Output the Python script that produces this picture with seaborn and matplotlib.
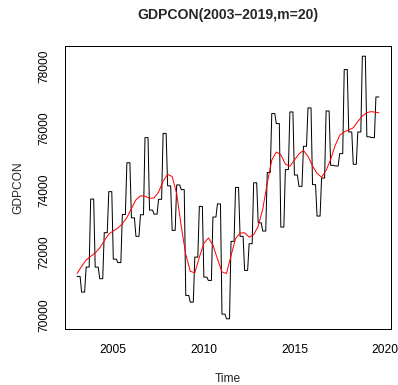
import numpy as np
import pandas as pd
import matplotlib
matplotlib.use("Agg")
import matplotlib.pyplot as plt
import seaborn as sns

# Quarterly values (each quarter is shown as three equal monthly values), 2003Q1 - 2019Q3
gdp_q = [
    71234, 70730, 71535, 73725,   # 2003
    71535, 71160, 72643, 73964,   # 2004
    71790, 71680, 73228, 74895,   # 2005
    73120, 72524, 73220, 75704,   # 2006
    73370, 73240, 73716, 75840,   # 2007
    74150, 72717, 74180, 74030,   # 2008
    70622, 70406, 71856, 73490,   # 2009
    71212, 71105, 73146, 73570,   # 2010
    70020, 69870, 72363, 74100,   # 2011
    72524, 71428, 72288, 74250,   # 2012
    72960, 72695, 74580, 76478,   # 2013
    76156, 72823, 74673, 76530,   # 2014
    74500, 74135, 75424, 76659,   # 2015
    74190, 73178, 74403, 76562,   # 2016
    74812, 74790, 75189, 77896,   # 2017
    75885, 74844, 75885, 78325,   # 2018
    75730, 75704, 77013,          # 2019
]
start_year = 2003

# Smoothed (m=20) curve read at quarter starts, plus the last month
smooth_t = [2003.00, 2003.25, 2003.50, 2003.75, 2004.00, 2004.25, 2004.50, 2004.75,
            2005.00, 2005.25, 2005.50, 2005.75, 2006.00, 2006.25, 2006.50, 2006.75,
            2007.00, 2007.25, 2007.50, 2007.75, 2008.00, 2008.25, 2008.50, 2008.75,
            2009.00, 2009.25, 2009.50, 2009.75, 2010.00, 2010.25, 2010.50, 2010.75,
            2011.00, 2011.25, 2011.50, 2011.75, 2012.00, 2012.25, 2012.50, 2012.75,
            2013.00, 2013.25, 2013.50, 2013.75, 2014.00, 2014.25, 2014.50, 2014.75,
            2015.00, 2015.25, 2015.50, 2015.75, 2016.00, 2016.25, 2016.50, 2016.75,
            2017.00, 2017.25, 2017.50, 2017.75, 2018.00, 2018.25, 2018.50, 2018.75,
            2019.00, 2019.25, 2019.50, 2019.667]
smooth_v = [71330, 71560, 71760, 71880, 71990, 72150, 72380, 72600,
            72700, 72790, 72930, 73130, 73420, 73700, 73830, 73820,
            73750, 73760, 73950, 74300, 74520, 74450, 73900, 72850,
            71950, 71400, 71350, 71850, 72300, 72470, 72250, 71800,
            71380, 71330, 71900, 72450, 72630, 72640, 72500, 72580,
            72850, 73400, 74230, 74980, 75240, 75150, 74850, 74780,
            74980, 75180, 75290, 75100, 74790, 74550, 74430, 74650,
            75000, 75450, 75780, 75890, 75950, 76020, 76220, 76400,
            76510, 76540, 76520, 76500]

x_ticks = [2005, 2010, 2015, 2020]
y_ticks = [70000, 72000, 74000, 76000, 78000]
title = "GDPCON(2003\u20132019,m=20)"

monthly = np.repeat(gdp_q, 3)
t_month = start_year + np.arange(len(monthly)) / 12.0
df_black = pd.DataFrame({"Time": t_month, "GDPCON": monthly})
df_red = pd.DataFrame({"Time": smooth_t, "GDPCON": smooth_v})

sns.set_style("white")
plt.rcParams['font.family'] = ['Liberation Sans', 'DejaVu Sans']

W, H, DPI = 398, 385, 72
fig = plt.figure(figsize=(W / DPI, H / DPI), dpi=DPI)
left, right, top, bottom = 65, 391, 45.7, 329.3
ax = fig.add_axes([left / W, 1 - bottom / H, (right - left) / W, (bottom - top) / H])

sns.lineplot(data=df_black, x="Time", y="GDPCON", ax=ax, color="black",
             linewidth=1.0, estimator=None, sort=False)
sns.lineplot(data=df_red, x="Time", y="GDPCON", ax=ax, color="red",
             linewidth=1.0, estimator=None, sort=False)

ax.set_xlim(2002.333, 2020.333)
ax.set_ylim(69532, 78663)
ax.set_xticks(x_ticks)
ax.set_yticks(y_ticks)
ax.set_xticklabels([str(v) for v in x_ticks])
ax.set_yticklabels([str(v) for v in y_ticks])
for s in ax.spines.values():
    s.set_visible(True)
    s.set_color("black")
    s.set_linewidth(1.0)
ax.tick_params(axis="both", which="major", length=7, width=1, color="black",
               labelsize=12, labelcolor="black", direction="out")
ax.tick_params(axis="x", pad=8)
ax.tick_params(axis="y", pad=8)
for lab in ax.get_yticklabels():
    lab.set_rotation(90)
    lab.set_va("center")
    lab.set_ha("right")

ax.set_xlabel("")
ax.set_ylabel("")
fig.text(228 / W, 1 - 379 / H, "Time", ha="center", va="center", fontsize=12)
fig.text(18 / W, 1 - 187.5 / H, "GDPCON", ha="center", va="center", fontsize=12, rotation=90)
fig.text(228 / W, 1 - 15 / H, title, ha="center", va="center", fontsize=14, fontweight="bold")

fig.savefig("out.png", dpi=DPI, facecolor="white")
